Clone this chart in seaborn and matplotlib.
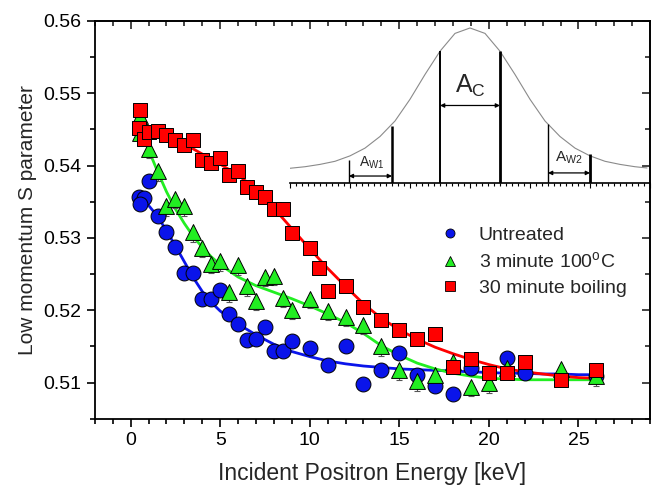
import matplotlib
matplotlib.use("Agg")
import matplotlib.pyplot as plt
from matplotlib.ticker import MultipleLocator
from matplotlib.lines import Line2D
import seaborn as sns
import pandas as pd

untreated_E = [0.45, 0.75, 0.5, 1.0, 1.5, 2.0, 2.5, 3.0, 3.5, 4.0, 4.5, 5.0, 5.5, 6.0, 6.5, 7.0,
               7.5, 8.0, 8.5, 9.0, 10, 11, 12, 13, 14, 15, 16, 17, 18, 19, 21, 22, 26]
untreated_S = [0.5357, 0.5355, 0.5347, 0.5379, 0.5330, 0.5308, 0.5287, 0.5252, 0.5252, 0.5216,
               0.5216, 0.5228, 0.5195, 0.5181, 0.5159, 0.5161, 0.5177, 0.5144, 0.5144, 0.5158,
               0.5148, 0.5125, 0.5150, 0.5098, 0.5118, 0.5141, 0.5111, 0.5096, 0.5085, 0.5120,
               0.5134, 0.5113, 0.5109]

min3_E = [0.5, 0.5, 1.0, 1.5, 2.0, 2.5, 3.0, 3.5, 4.0, 4.5, 5.0, 5.5, 6.0, 6.5, 7.0, 7.5, 8.0,
          8.5, 9.0, 10, 11, 12, 13, 14, 15, 16, 17, 18, 19, 20, 21, 24, 26]
min3_S = [0.5469, 0.5445, 0.5423, 0.5392, 0.5344, 0.5354, 0.5344, 0.5308, 0.5286, 0.5264,
          0.5268, 0.5225, 0.5262, 0.5233, 0.5213, 0.5246, 0.5248, 0.5217, 0.5201, 0.5216,
          0.5199, 0.5191, 0.5180, 0.5150, 0.5117, 0.5102, 0.5111, 0.5129, 0.5094, 0.5099,
          0.5120, 0.5119, 0.5109]
min3_err = 0.0007

min30_E = [0.5, 0.45, 0.75, 1.0, 1.5, 2.0, 2.5, 3.0, 3.5, 4.0, 4.5, 5.0, 5.5, 6.0, 6.5, 7.0,
           7.5, 8.0, 8.5, 9.0, 10, 10.5, 11, 12, 13, 14, 15, 16, 17, 18, 19, 20, 21, 22, 24, 26]
min30_S = [0.5477, 0.5452, 0.5437, 0.5447, 0.5448, 0.5443, 0.5436, 0.5429, 0.5436, 0.5408,
           0.5403, 0.5410, 0.5387, 0.5393, 0.5370, 0.5363, 0.5356, 0.5340, 0.5340, 0.5307,
           0.5286, 0.5259, 0.5227, 0.5233, 0.5204, 0.5187, 0.5173, 0.5160, 0.5167, 0.5122,
           0.5133, 0.5113, 0.5114, 0.5129, 0.5104, 0.5118]

# fitted curves
fit_E = [0.5, 1, 1.5, 2, 2.5, 3, 3.5, 4, 4.5, 5, 6, 7, 8, 9, 10, 11, 12, 13, 14, 15, 16, 17,
         18, 19, 20, 21, 22, 23, 24, 25, 26]
fit_untreated = [0.5357, 0.5345, 0.5330, 0.5310, 0.5289, 0.5267, 0.5245, 0.5226, 0.5211, 0.5199,
                 0.5181, 0.5166, 0.5153, 0.5143, 0.5136, 0.5130, 0.5126, 0.5123, 0.5121, 0.5119,
                 0.5118, 0.5117, 0.5116, 0.5115, 0.5114, 0.5113, 0.5113, 0.5112, 0.5112, 0.5111,
                 0.5111]
fit_min3 = [0.5450, 0.5422, 0.5392, 0.5364, 0.5340, 0.5320, 0.5302, 0.5287, 0.5274, 0.5263,
            0.5246, 0.5234, 0.5225, 0.5216, 0.5206, 0.5195, 0.5183, 0.5168, 0.5151, 0.5138,
            0.5127, 0.5119, 0.5113, 0.5109, 0.5106, 0.5105, 0.5104, 0.5104, 0.5104, 0.5104,
            0.5104]
fit_min30 = [0.5451, 0.5448, 0.5445, 0.5441, 0.5436, 0.5430, 0.5423, 0.5416, 0.5409, 0.5402,
             0.5387, 0.5367, 0.5341, 0.5313, 0.5285, 0.5258, 0.5233, 0.5209, 0.5189, 0.5173,
             0.5160, 0.5149, 0.5140, 0.5132, 0.5125, 0.5119, 0.5115, 0.5112, 0.5109, 0.5107,
             0.5106]

# inset schematic: annihilation line shape
peak_x = [0, 0.25, 0.5, 0.75, 1.0, 1.25, 1.5, 1.75, 2.0, 2.25, 2.5, 2.75, 3.0, 3.25, 3.5,
          3.75, 4.0, 4.25, 4.5, 4.75, 5.0, 5.25, 5.5, 5.75, 5.95]
peak_y = [0.095, 0.105, 0.12, 0.14, 0.175, 0.225, 0.30, 0.40, 0.54, 0.70, 0.85, 0.965, 1.0,
          0.965, 0.85, 0.70, 0.54, 0.40, 0.30, 0.225, 0.175, 0.14, 0.12, 0.105, 0.097]
window_x = [0.98, 1.70, 2.5, 3.5, 4.3, 5.0]
window_top = [0.15, 0.37, 0.85, 0.85, 0.38, 0.19]

labels = ["Untreated", "3 minute 100$^\\mathrm{o}$C", "30 minute boiling"]
colors = ["#0a14ea", "#22ee22", "#ff0000"]
markers = ["o", "^", "s"]

points = pd.concat([
    pd.DataFrame({"E": untreated_E, "S": untreated_S, "sample": labels[0]}),
    pd.DataFrame({"E": min3_E, "S": min3_S, "sample": labels[1]}),
    pd.DataFrame({"E": min30_E, "S": min30_S, "sample": labels[2]}),
])
fits = pd.concat([
    pd.DataFrame({"E": fit_E, "S": fit_untreated, "sample": labels[0]}),
    pd.DataFrame({"E": fit_E, "S": fit_min3, "sample": labels[1]}),
    pd.DataFrame({"E": fit_E, "S": fit_min30, "sample": labels[2]}),
])

sns.set_theme(style="ticks")
plt.rcParams["font.family"] = ["Liberation Sans", "DejaVu Sans"]
plt.rcParams["mathtext.fontset"] = "custom"
plt.rcParams["mathtext.rm"] = "Liberation Sans"
plt.rcParams["mathtext.it"] = "Liberation Sans:italic"

fig = plt.figure(figsize=(6.54, 4.87), dpi=100)
ax = fig.add_axes([0.145, 0.140, 0.849, 0.817])

palette = dict(zip(labels, colors))
sns.lineplot(data=fits, x="E", y="S", hue="sample", palette=palette, lw=2,
             legend=False, ax=ax, zorder=2)
ax.errorbar(min3_E, [s - 0.0006 for s in min3_S], yerr=min3_err, fmt="none",
            ecolor="#555555", elinewidth=0.8, capsize=2.5, capthick=0.8, zorder=2.5)
for lab, m in zip(labels, markers):
    sub = points[points["sample"] == lab]
    sns.scatterplot(data=sub, x="E", y="S", color=palette[lab], marker=m,
                    s=115 if m != "^" else 130, edgecolor="black", linewidth=0.7,
                    legend=False, ax=ax, zorder=3)

ax.set_xlim(-2, 29)
ax.set_ylim(0.505, 0.56)
ax.xaxis.set_major_locator(MultipleLocator(5))
ax.xaxis.set_minor_locator(MultipleLocator(1))
ax.yaxis.set_major_locator(MultipleLocator(0.01))
ax.yaxis.set_minor_locator(MultipleLocator(0.005))
ax.set_yticks([0.51, 0.52, 0.53, 0.54, 0.55, 0.56])
ax.set_yticklabels(["0.51", "0.52", "0.53", "0.54", "0.55", "0.56"])
ax.tick_params(which="both", direction="out", width=1.2, labelsize=14, colors="black")
ax.tick_params(which="major", length=6)
ax.tick_params(which="minor", length=3.5)
for sp in ax.spines.values():
    sp.set_linewidth(1.3)
    sp.set_color("black")

top = ax.secondary_xaxis("top")
top.xaxis.set_major_locator(MultipleLocator(5))
top.xaxis.set_minor_locator(MultipleLocator(1))
top.tick_params(which="both", direction="in", labeltop=False, width=1.2)
top.tick_params(which="major", length=6)
top.tick_params(which="minor", length=3.5)
right = ax.secondary_yaxis("right")
right.yaxis.set_major_locator(MultipleLocator(0.01))
right.yaxis.set_minor_locator(MultipleLocator(0.005))
right.tick_params(which="both", direction="in", labelright=False, width=1.2)
right.tick_params(which="major", length=6)
right.tick_params(which="minor", length=3.5)

ax.set_xlabel("Incident Positron Energy [keV]", fontsize=16.5, labelpad=9)
ax.set_ylabel("Low momentum S parameter", fontsize=15, labelpad=5)

handles = [Line2D([], [], ls="none", marker=m, color=c, markeredgecolor="black",
                  markeredgewidth=0.6, markersize=7.5 if m == "^" else 6.5)
           for m, c in zip(markers, colors)]
ax.legend(handles, labels, loc="upper left", bbox_to_anchor=(438 / 654, 1 - 226 / 487),
          bbox_transform=fig.transFigure, frameon=False, fontsize=14, borderpad=0,
          borderaxespad=0, handlelength=1.2, handletextpad=0.9, labelspacing=0.4)

# inset
axin = fig.add_axes([290 / 654, 1 - 183 / 487, 360 / 654, 162 / 487])
axin.patch.set_alpha(0)
axin.plot(peak_x, peak_y, color="#8a8a8a", lw=0.8)
lws = [1.0, 1.8, 1.4, 2.0, 1.0, 2.0]
axin.vlines(window_x, 0, window_top, colors="black", linewidths=lws)
arrow = dict(arrowstyle="<|-|>", color="black", lw=0.9, mutation_scale=6, shrinkA=0, shrinkB=0)
axin.annotate("", xy=(window_x[1], 0.045), xytext=(window_x[0], 0.045), arrowprops=arrow)
axin.annotate("", xy=(window_x[3], 0.50), xytext=(window_x[2], 0.50), arrowprops=arrow)
axin.annotate("", xy=(window_x[5], 0.065), xytext=(window_x[4], 0.065), arrowprops=arrow)
axin.text(1.36, 0.08, r"$\mathrm{A_{W1}}$", ha="center", va="bottom", fontsize=10)
axin.text(3.0, 0.54, r"$\mathrm{A_{C}}$", ha="center", va="bottom", fontsize=18)
axin.text(4.65, 0.11, r"$\mathrm{A_{W2}}$", ha="center", va="bottom", fontsize=11)
axin.set_xlim(0, 6)
axin.set_ylim(0, 1.045)
axin.xaxis.set_major_locator(MultipleLocator(1))
axin.xaxis.set_minor_locator(MultipleLocator(0.1))
axin.tick_params(which="both", direction="out", labelbottom=False, left=False,
                 labelleft=False, width=0.8, colors="black")
axin.tick_params(which="major", length=3.5)
axin.tick_params(which="minor", length=2)
for side in ["top", "left", "right"]:
    axin.spines[side].set_visible(False)
axin.spines["bottom"].set_linewidth(1.2)
axin.spines["bottom"].set_color("black")

fig.savefig("out.png", dpi=100)
